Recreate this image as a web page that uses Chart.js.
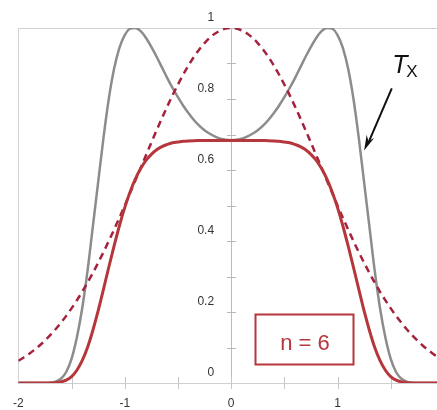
<!DOCTYPE html>
<html>
<head>
<meta charset="utf-8">
<script src="https://cdn.jsdelivr.net/npm/chart.js@4/dist/chart.umd.min.js"></script>
<style>
  html, body { margin: 0; padding: 0; background: #fff; overflow: hidden; }
  #c { display: block; }
</style>
</head>
<body>
<canvas id="c" width="437" height="410"></canvas>
<script>
// ---- data ----
const xValues = [
  -2.00,-1.95,-1.90,-1.85,-1.80,-1.75,-1.70,-1.65,-1.60,-1.55,-1.50,-1.45,-1.40,-1.35,-1.30,-1.25,-1.20,-1.15,-1.10,-1.05,
  -1.00,-0.95,-0.90,-0.85,-0.80,-0.75,-0.70,-0.65,-0.60,-0.55,-0.50,-0.45,-0.40,-0.35,-0.30,-0.25,-0.20,-0.15,-0.10,-0.05,
   0.00, 0.05, 0.10, 0.15, 0.20, 0.25, 0.30, 0.35, 0.40, 0.45, 0.50, 0.55, 0.60, 0.65, 0.70, 0.75, 0.80, 0.85, 0.90, 0.95,
   1.00, 1.05, 1.10, 1.15, 1.20, 1.25, 1.30, 1.35, 1.40, 1.45, 1.50, 1.55, 1.60, 1.65, 1.70, 1.75, 1.80, 1.85, 1.90, 1.95, 2.00
];
// grey curve, T_X
const txValues = [
  0,0,0,0,0,0,0.001,0.004,0.012,0.031,0.068,0.128,0.21,0.315,0.44,0.565,0.69,0.80,0.885,0.944,
  0.98,0.998,1.0,0.991,0.972,0.947,0.919,0.889,0.859,0.831,0.805,0.781,0.76,0.741,0.725,0.712,0.702,0.694,0.688,0.685,
  0.684,
  0.685,0.688,0.694,0.702,0.712,0.725,0.741,0.76,0.781,0.805,0.831,0.859,0.889,0.919,0.947,0.972,0.991,1.0,0.998,
  0.98,0.944,0.885,0.80,0.69,0.565,0.44,0.315,0.21,0.128,0.068,0.031,0.012,0.004,0.001,0,0,0,0,0,0
];
// red solid curve (flat top, n = 6)
const solidValues = [
  0,0,0,0,0,0,0,0.001,0.003,0.008,0.018,0.036,0.063,0.100,0.148,0.203,0.264,0.326,0.386,0.443,
  0.494,0.538,0.575,0.604,0.627,0.644,0.657,0.666,0.672,0.677,0.679,0.681,0.682,0.6826,0.6828,0.683,0.683,0.683,0.683,0.683,
  0.683,
  0.683,0.683,0.683,0.683,0.683,0.6828,0.6826,0.682,0.681,0.679,0.677,0.672,0.666,0.657,0.644,0.627,0.604,0.575,0.538,
  0.494,0.443,0.386,0.326,0.264,0.203,0.148,0.100,0.063,0.036,0.018,0.008,0.003,0.001,0,0,0,0,0,0,0
];
// red dashed curve (peak 1 at 0)
const dashedValues = [
  0.0625,0.0717,0.0819,0.0933,0.1058,0.1197,0.1349,0.1515,0.1696,0.1891,0.2102,0.2329,0.2570,0.2827,0.3099,0.3386,0.3686,0.3998,0.4323,0.4657,
  0.5,0.5350,0.5704,0.6061,0.6417,0.6771,0.7120,0.7461,0.7792,0.8108,0.8409,0.8690,0.8950,0.9186,0.9395,0.9576,0.9727,0.9845,0.9931,0.9983,
  1.0,
  0.9983,0.9931,0.9845,0.9727,0.9576,0.9395,0.9186,0.8950,0.8690,0.8409,0.8108,0.7792,0.7461,0.7120,0.6771,0.6417,0.6061,0.5704,0.5350,
  0.5,0.4657,0.4323,0.3998,0.3686,0.3386,0.3099,0.2827,0.2570,0.2329,0.2102,0.1891,0.1696,0.1515,0.1349,0.1197,0.1058,0.0933,0.0819,0.0717,0.0625
];
const xTickLabels = ['-2', '-1', '0', '1'];
const yTickLabels = ['0', '0.2', '0.4', '0.6', '0.8', '1'];
const boxLabel = 'n = 6';
const curveLabel = 'T';
const curveLabelSub = 'X';

const pts = (ys) => xValues.map((x, i) => ({ x: x, y: ys[i] }));

const FONT = "'Liberation Sans', Arial, sans-serif";
const RED = '#b6373b';
const DASH_RED = '#a5223d';
const GREY = '#8c8c8c';
const Y_LABEL_GAP = 17;

const decor = {
  id: 'decor',
  beforeDraw(chart) {
    // move the y-axis labels (axis placed at x = 0) to the left of the axis line
    const ys = chart.scales.y;
    if (ys && ys.getLabelItems) {
      const items = ys.getLabelItems();
      if (items && !items._shifted) {
        items.forEach(it => {
          if (it.options && it.options.translation) it.options.translation[0] -= Y_LABEL_GAP;
        });
        items._shifted = true;
      }
    }
  },
  beforeDatasetsDraw(chart) {
    const { ctx, chartArea: a, scales: { x, y } } = chart;
    ctx.save();
    ctx.strokeStyle = '#d2d2d2';
    ctx.lineWidth = 1;
    // left & top frame
    ctx.beginPath();
    ctx.moveTo(Math.round(a.left) + 0.5, a.bottom);
    ctx.lineTo(Math.round(a.left) + 0.5, Math.round(a.top) + 0.5);
    ctx.lineTo(a.right, Math.round(a.top) + 0.5);
    ctx.stroke();
    // x tick marks every 0.5
    ctx.strokeStyle = '#c8c8c8';
    const y0 = y.getPixelForValue(0);
    for (let v = -1.5; v <= 1.95; v += 0.5) {
      const px = Math.round(x.getPixelForValue(v)) + 0.5;
      ctx.beginPath();
      ctx.moveTo(px, y0 - 6);
      ctx.lineTo(px, y0 + 6);
      ctx.stroke();
    }
    // y tick marks every 0.1
    ctx.strokeStyle = '#b8b8b8';
    const x0 = Math.round(x.getPixelForValue(0));
    for (let k = 1; k <= 10; k++) {
      const py = Math.round(y.getPixelForValue(k / 10)) + 0.5;
      ctx.beginPath();
      ctx.moveTo(x0 - 4, py);
      ctx.lineTo(x0 + 5, py);
      ctx.stroke();
    }
    ctx.restore();
  },
  afterDatasetsDraw(chart) {
    const { ctx, scales: { x, y } } = chart;
    ctx.save();
    // n = 6 box
    const bx1 = x.getPixelForValue(0.225), bx2 = x.getPixelForValue(1.145);
    const by1 = y.getPixelForValue(0.193), by2 = y.getPixelForValue(0.052);
    ctx.strokeStyle = RED;
    ctx.lineWidth = 2;
    ctx.strokeRect(Math.round(bx1) + 0.5, Math.round(by1) + 0.5, Math.round(bx2 - bx1), Math.round(by2 - by1));
    ctx.fillStyle = RED;
    ctx.font = '22px ' + FONT;
    ctx.textAlign = 'center';
    ctx.textBaseline = 'alphabetic';
    ctx.fillText(boxLabel, (bx1 + bx2) / 2 + 1, y.getPixelForValue(0.093));
    // T_X label
    ctx.fillStyle = '#111';
    ctx.textAlign = 'left';
    ctx.font = 'italic 25px ' + FONT;
    const tx = x.getPixelForValue(1.515), ty = y.getPixelForValue(0.873);
    ctx.fillText(curveLabel, tx, ty);
    ctx.font = '17px ' + FONT;
    ctx.fillText(curveLabelSub, tx + 14, ty + 4);
    // arrow
    const ax1 = x.getPixelForValue(1.51), ay1 = y.getPixelForValue(0.83);
    const ax2 = x.getPixelForValue(1.25), ay2 = y.getPixelForValue(0.655);
    ctx.strokeStyle = '#111';
    ctx.lineWidth = 2;
    ctx.beginPath();
    ctx.moveTo(ax1, ay1);
    ctx.lineTo(ax2 + 4, ay2 - 7);
    ctx.stroke();
    const ang = Math.atan2(ay2 - ay1, ax2 - ax1);
    const L = 16, W = 0.26;
    ctx.fillStyle = '#111';
    ctx.beginPath();
    ctx.moveTo(ax2, ay2);
    ctx.lineTo(ax2 - L * Math.cos(ang - W), ay2 - L * Math.sin(ang - W));
    ctx.lineTo(ax2 - L * 0.65 * Math.cos(ang), ay2 - L * 0.65 * Math.sin(ang));
    ctx.lineTo(ax2 - L * Math.cos(ang + W), ay2 - L * Math.sin(ang + W));
    ctx.closePath();
    ctx.fill();
    ctx.restore();
  }
};

new Chart(document.getElementById('c'), {
  type: 'line',
  data: {
    datasets: [
      { label: 'n = 6', data: pts(solidValues), borderColor: RED, borderWidth: 3, pointRadius: 0, tension: 0.3, cubicInterpolationMode: 'monotone', fill: false },
      { label: 'dashed', data: pts(dashedValues), borderColor: DASH_RED, borderWidth: 2.5, borderDash: [7, 5], pointRadius: 0, tension: 0.3, cubicInterpolationMode: 'monotone', fill: false },
      { label: 'T_X', data: pts(txValues), borderColor: GREY, borderWidth: 2.5, pointRadius: 0, tension: 0.3, cubicInterpolationMode: 'monotone', fill: false }
    ]
  },
  options: {
    responsive: false,
    animation: false,
    devicePixelRatio: 1,
    layout: { padding: { left: 17, top: 28, right: 0, bottom: 0 } },
    plugins: { legend: { display: false }, tooltip: { enabled: false } },
    scales: {
      x: {
        type: 'linear',
        min: -2,
        max: 1.935,
        afterBuildTicks(scale) {
          scale.ticks = xTickLabels.map(t => ({ value: Number(t) }));
        },
        afterFit(scale) { scale.height = 27; },
        ticks: {
          padding: 13,
          color: '#333',
          font: { size: 12, family: FONT },
          maxRotation: 0,
          autoSkip: false,
          callback: (v, i) => xTickLabels[i]
        },
        grid: { display: false, drawTicks: false },
        border: { display: true, color: '#d0d0d0', width: 1 }
      },
      y: {
        type: 'linear',
        min: 0,
        max: 1,
        position: { x: 0 },
        afterBuildTicks(scale) {
          scale.ticks = yTickLabels.map(t => ({ value: Number(t) }));
        },
        ticks: {
          padding: 0,
          labelOffset: -10,
          color: '#333',
          font: { size: 12, family: FONT },
          autoSkip: false,
          callback: (v, i) => yTickLabels[i]
        },
        grid: { display: false, drawTicks: false },
        border: { display: true, color: '#bcbcbc', width: 1 }
      }
    }
  },
  plugins: [decor]
});
</script>
</body>
</html>
